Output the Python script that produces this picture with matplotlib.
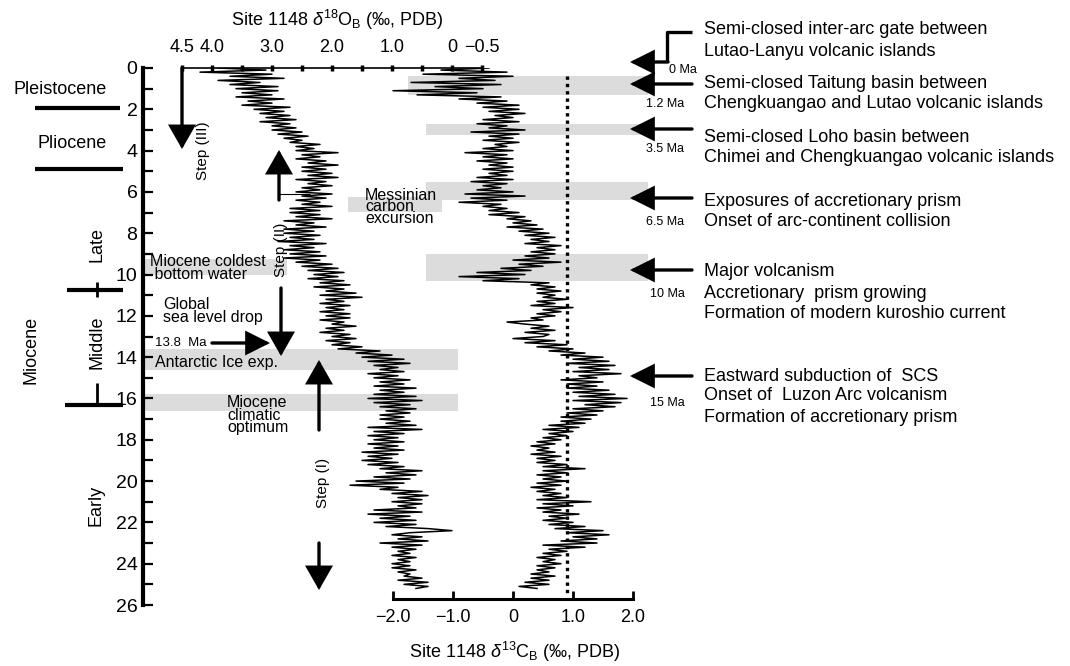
import numpy as np
import matplotlib
matplotlib.use('Agg')
import matplotlib.pyplot as plt
from matplotlib.patches import FancyArrowPatch

plt.rcParams['font.family'] = ['Liberation Sans', 'DejaVu Sans']
plt.rcParams['mathtext.fontset'] = 'custom'
plt.rcParams['mathtext.rm'] = 'Liberation Sans'
plt.rcParams['mathtext.it'] = 'Liberation Sans:italic'

W, H = 1070, 666

# sampling grid (Ma) for the digitised records
age = np.round(np.arange(0, 25.25, 0.1), 1)

# benthic d18O, Site 1148 (per mil PDB)
d18o = [
    3.9, 3.1, 4.2, 3.0, 3.7, 2.8, 3.9, 3.2, 3.7, 2.9,
    3.6, 2.9, 3.5, 3.0, 3.6, 2.8, 3.4, 3.0, 3.5, 2.7,
    3.3, 2.8, 3.2, 2.7, 3.1, 2.6, 3.2, 2.7, 3.0, 2.6,
    3.0, 2.5, 2.9, 2.4, 2.8, 2.5, 2.7, 2.2, 2.6, 2.3,
    2.6, 1.9, 2.5, 2.2, 2.6, 2.1, 2.4, 1.9, 2.5, 2.1,
    2.5, 2.0, 2.4, 1.9, 2.6, 2.1, 2.4, 2.0, 2.5, 2.2,
    2.6, 2.0, 2.5, 2.1, 2.6, 2.2, 2.5, 2.0, 2.7, 2.2,
    2.7, 2.2, 2.6, 2.0, 2.8, 2.3, 2.6, 2.1, 2.8, 2.3,
    2.8, 2.2, 2.7, 2.3, 2.9, 2.1, 2.7, 2.3, 2.8, 2.2,
    2.7, 2.1, 2.8, 2.2, 2.6, 2.0, 2.5, 1.9, 2.4, 1.8,
    2.3, 1.9, 2.4, 1.8, 2.2, 1.7, 2.3, 1.8, 2.1, 1.6,
    2.2, 1.5, 2.1, 1.8, 2.2, 1.7, 2.1, 1.8, 2.2, 1.7,
    2.1, 1.7, 2.2, 1.8, 2.0, 1.6, 2.1, 1.8, 2.2, 1.7,
    2.0, 1.6, 2.1, 1.7, 2.0, 1.5, 1.9, 1.2, 1.6, 1.0,
    1.5, 0.8, 1.4, 0.7, 1.3, 0.9, 1.2, 0.8, 1.4, 0.9,
    1.3, 0.7, 1.2, 0.8, 1.3, 0.6, 1.2, 0.8, 1.3, 0.6,
    1.4, 0.5, 1.3, 0.7, 1.2, 0.6, 1.1, 0.7, 1.2, 0.8,
    1.2, 0.7, 1.1, 0.6, 1.4, 0.5, 1.3, 0.8, 1.4, 0.9,
    1.3, 0.8, 1.4, 0.9, 1.3, 0.8, 1.5, 0.9, 1.4, 1.0,
    1.5, 0.9, 1.4, 0.8, 1.2, 0.5, 1.1, 0.6, 1.3, 0.7,
    1.6, 0.8, 1.7, 0.9, 1.2, 0.5, 1.0, 0.4, 0.9, 0.5,
    1.0, 0.5, 0.9, 0.6, 1.3, 0.5, 1.4, 0.7, 1.2, 0.6,
    1.3, 0.6, 1.1, 0.4, 0.0, 0.7, 1.0, 0.5, 0.9, 0.4,
    1.2, 0.5, 1.0, 0.6, 0.9, 0.7, 1.0, 0.6, 0.9, 0.7,
    1.0, 0.7, 1.0, 0.6, 0.9, 0.7, 0.8, 0.5, 0.9, 0.4,
    0.8, 0.4, 0.6,
]

# benthic d13C, Site 1148 (per mil PDB)
d13c = [
    -0.4, -1.2, -0.1, -1.5, 0.0, -0.9, -0.3, -1.7, -0.2, -1.3,
    -0.5, -2.0, -0.6, -1.6, -0.2, -0.9, -0.1, -0.6, 0.1, -0.5,
    0.1, -0.4, 0.2, -0.3, 0.0, -0.5, 0.1, -0.6, -0.1, -0.4,
    0.2, -0.7, 0.1, -0.4, 0.0, -0.5, 0.1, -0.3, -0.1, -0.5,
    0.0, -0.8, -0.1, -0.5, 0.0, -0.6, -0.1, -0.4, 0.0, -0.5,
    0.0, -0.4, -0.1, -0.6, 0.0, -0.7, -0.1, -0.5, -0.2, -0.6,
    0.0, -0.8, 0.2, -0.7, -0.1, -0.9, -0.2, -0.5, -0.1, -0.4,
    0.1, -0.4, 0.2, -0.1, 0.3, 0.0, 0.4, -0.1, 0.5, 0.1,
    0.6, 0.2, 0.7, 0.3, 0.6, 0.2, 0.8, 0.4, 0.7, 0.3,
    0.7, 0.2, 0.6, 0.0, 0.8, 0.1, 0.5, -0.2, 0.3, -0.6,
    0.2, -0.9, 0.1, -0.5, 0.6, 0.3, 0.7, 0.4, 0.8, 0.4,
    0.7, 0.5, 0.9, 0.4, 0.7, 0.3, 1.0, 0.5, 0.8, 0.4,
    0.7, 0.3, 0.5, -0.1, 0.2, 0.6, 0.3, 0.7, 0.2, 0.6,
    0.5, 0.0, 0.7, 0.2, 0.9, 0.4, 1.0, 0.6, 1.2, 0.8,
    1.5, 1.0, 1.6, 0.9, 1.7, 1.1, 1.6, 1.0, 1.8, 1.1,
    1.4, 0.8, 1.5, 0.9, 1.4, 0.9, 1.6, 1.0, 1.7, 1.1,
    1.9, 1.0, 1.8, 1.2, 1.7, 1.0, 1.5, 0.9, 1.4, 0.8,
    1.3, 0.8, 1.2, 0.6, 1.1, 0.5, 1.0, 0.6, 0.9, 0.5,
    0.8, 0.4, 0.7, 0.3, 0.6, 0.4, 0.7, 0.3, 0.8, 0.4,
    0.7, 0.4, 0.9, 0.5, 1.2, 0.5, 0.9, 0.4, 0.8, 0.5,
    0.9, 0.4, 0.8, 0.3, 0.7, 0.4, 0.8, 0.5, 0.9, 0.4,
    1.3, 0.5, 1.0, 0.4, 0.8, 0.5, 1.1, 0.6, 0.9, 0.5,
    1.0, 0.6, 1.2, 0.7, 1.5, 0.9, 1.6, 1.0, 1.4, 0.8,
    1.4, 0.5, 1.2, 0.6, 0.9, 0.5, 0.8, 0.4, 0.7, 0.5,
    0.8, 0.4, 0.7, 0.4, 0.6, 0.3, 0.7, 0.3, 0.6, 0.2,
    0.6, 0.1, 0.4,
]

# shaded intervals (Ma): event bands on the d13C side and climate bands on the d18O side
event_bands = [(0.4, 1.3), (2.7, 3.25), (5.5, 6.4), (9.0, 10.3)]
messinian_band = (6.25, 6.95)
climate_bands = [(9.25, 10.0), (13.6, 14.6), (15.8, 16.6)]
mean_d13c = 0.9

fig = plt.figure(figsize=(W / 100, H / 100), dpi=100)


def fp(x, y):
    return (x / W, 1 - y / H)


# axes: left edge = age axis, x in d13C units, twin x in d18O units
ax = fig.add_axes([143 / W, 1 - 605 / H, (648 - 143) / W, (605 - 68) / H])
ax.set_ylim(26, 0)
ax.set_xlim((143 - 513) / 60, (648 - 513) / 60)
ax2 = ax.twiny()
ax2.set_xlim(4.5 - (143 - 182) / 60, 4.5 - (648 - 182) / 60)

band_c = '#dcdcdc'
for i, (a0, a1) in enumerate(event_bands):
    x0 = 408 if i == 0 else 426
    ax.fill_between([(x0 - 513) / 60, (648 - 513) / 60], a0, a1, color=band_c, lw=0, zorder=0)
ax.fill_between([(348 - 513) / 60, (442 - 513) / 60], *messinian_band, color=band_c, lw=0, zorder=0)
ax.fill_between([(143 - 513) / 60, (287 - 513) / 60], *climate_bands[0], color=band_c, lw=0, zorder=0)
for a0, a1 in climate_bands[1:]:
    ax.fill_between([(143 - 513) / 60, (458 - 513) / 60], a0, a1, color=band_c, lw=0, zorder=0)

ax.plot(d13c, age, color='black', lw=1.1, zorder=2)
ax2.plot(d18o, age, color='black', lw=1.1, zorder=2)
ax.plot([mean_d13c, mean_d13c], [0.4, 25.5], color='black', lw=2.4,
        ls=(0, (1, 1.2)), zorder=3)

# age axis
for s in ['top', 'right']:
    ax.spines[s].set_visible(False)
ax.spines['left'].set_linewidth(3)
ax.set_yticks(range(0, 27, 2))
ax.set_yticks(range(1, 26, 2), minor=True)
ax.tick_params(axis='y', which='both', direction='in', length=7, width=1.6,
               labelsize=14, pad=4)

# d13C axis
ax.spines['bottom'].set_bounds(-2, 2)
ax.spines['bottom'].set_position(('data', 25.7))
ax.spines['bottom'].set_linewidth(2.2)
ax.set_xticks([-2, -1, 0, 1, 2])
ax.set_xticklabels(['\u22122.0', '\u22121.0', '0', '1.0', '2.0'])
ax.tick_params(axis='x', direction='in', length=6, width=2, labelsize=13, pad=7)

# d18O axis
for s in ['left', 'right', 'bottom']:
    ax2.spines[s].set_visible(False)
ax2.spines['top'].set_bounds(-0.5, 4.5)
ax2.spines['top'].set_linewidth(1.2)
ax2.set_xticks([4.5, 4.0, 3.5, 3.0, 2.5, 2.0, 1.5, 1.0, 0.5, 0.0, -0.5])
ax2.set_xticklabels(['4.5', '4.0', '', '3.0', '', '2.0', '', '1.0', '', '0', '\u22120.5'])
ax2.tick_params(axis='x', direction='inout', length=4, width=2.5, labelsize=13, pad=7)
ax2.tick_params(axis='y', left=False, right=False, labelleft=False, labelright=False)

fig.text(*fp(337, 20), 'Site 1148 $\\delta^{18}$O$_{\\mathrm{B}}$ (\u2030, PDB)',
         ha='center', va='center', fontsize=13)
fig.text(*fp(515, 652), 'Site 1148 $\\delta^{13}$C$_{\\mathrm{B}}$ (\u2030, PDB)',
         ha='center', va='center', fontsize=13)


def arrow(tail, tip, lw=2.4, hl=1.4, hw=0.7):
    fig.add_artist(FancyArrowPatch(fp(*tail), fp(*tip), transform=fig.transFigure,
                                   arrowstyle=f'-|>,head_length={hl},head_width={hw}',
                                   mutation_scale=10, lw=lw, color='black',
                                   shrinkA=0, shrinkB=0, joinstyle='miter'))


def seg(xs, ys, lw=3):
    fig.add_artist(plt.Line2D([x / W for x in xs], [1 - y / H for y in ys],
                              transform=fig.transFigure, color='black', lw=lw,
                              solid_capstyle='butt'))


# epochs
fig.text(*fp(60, 90), 'Pleistocene', ha='center', va='center', fontsize=13)
fig.text(*fp(72, 143), 'Pliocene', ha='center', va='center', fontsize=13)
fig.text(*fp(97, 244), 'Late', ha='center', va='center', fontsize=13, rotation=90)
fig.text(*fp(97, 342), 'Middle', ha='center', va='center', fontsize=13, rotation=90)
fig.text(*fp(31, 350), 'Miocene', ha='center', va='center', fontsize=13, rotation=90)
fig.text(*fp(96, 505), 'Early', ha='center', va='center', fontsize=13, rotation=90)
seg([35, 120], [108, 108])
seg([35, 123], [169, 169])
seg([67, 123], [290, 290])
seg([97, 97], [282, 297], lw=2)
seg([65, 123], [405, 405])
seg([97, 97], [383, 405], lw=2)

# climate annotations
fig.text(*fp(150, 268), 'Miocene coldest\n bottom water', ha='left', va='center',
         fontsize=11.5, linespacing=0.85)
fig.text(*fp(163, 311), 'Global\nsea level drop', ha='left', va='center',
         fontsize=11.5, linespacing=0.9)
fig.text(*fp(155, 343), '13.8  Ma', ha='left', va='center', fontsize=9.5)
arrow((212, 343), (270, 343))
fig.text(*fp(155, 362), 'Antarctic Ice exp.', ha='left', va='center', fontsize=11.5)
fig.text(*fp(227, 415), 'Miocene\nclimatic\noptimum', ha='left', va='center',
         fontsize=11.5, linespacing=0.8)
fig.text(*fp(365, 207), 'Messinian\ncarbon\nexcursion', ha='left', va='center',
         fontsize=11.5, linespacing=0.72)

# steps
arrow((182, 68), (182, 149), hw=0.8)
fig.text(*fp(203, 151), 'Step (III)', ha='center', va='center', fontsize=11, rotation=90)
arrow((279, 200), (279, 150), hw=0.8)
seg([279, 310], [194, 194], lw=0.8)
fig.text(*fp(281, 250), 'Step (II)', ha='center', va='center', fontsize=11, rotation=90)
arrow((281, 288), (281, 356), hw=0.8)
arrow((319, 430), (319, 360), hw=0.8)
fig.text(*fp(323, 483), 'Step (I)', ha='center', va='center', fontsize=11, rotation=90)
arrow((319, 543), (319, 590), hw=0.8)

# tectonic events
seg([692, 667, 667], [32, 32, 62], lw=2.4)
arrow((668, 62), (630, 62))
for y in [84, 129, 198, 270, 376]:
    arrow((692, y), (630, y))
for x, y, s in [(683, 70, '0 Ma'), (665, 104, '1.2 Ma'), (665, 149, '3.5 Ma'),
                (665, 222, '6.5 Ma'), (667, 294, '10 Ma'), (667, 403, '15 Ma')]:
    fig.text(*fp(x, y), s, ha='center', va='center', fontsize=9)

right_text = [
    (30, 'Semi-closed inter-arc gate between'),
    (52, 'Lutao-Lanyu volcanic islands'),
    (84, 'Semi-closed Taitung basin between'),
    (104, 'Chengkuangao and Lutao volcanic islands'),
    (137, 'Semi-closed Loho basin between'),
    (157, 'Chimei and Chengkuangao volcanic islands'),
    (202, 'Exposures of accretionary prism'),
    (222, 'Onset of arc-continent collision'),
    (272, 'Major volcanism'),
    (293, 'Accretionary  prism growing'),
    (313, 'Formation of modern kuroshio current'),
    (376, 'Eastward subduction of  SCS'),
    (396, 'Onset of  Luzon Arc volcanism'),
    (417, 'Formation of accretionary prism'),
]
for y, s in right_text:
    fig.text(*fp(704, y), s, ha='left', va='center', fontsize=13)

fig.savefig('out.png', dpi=100)
